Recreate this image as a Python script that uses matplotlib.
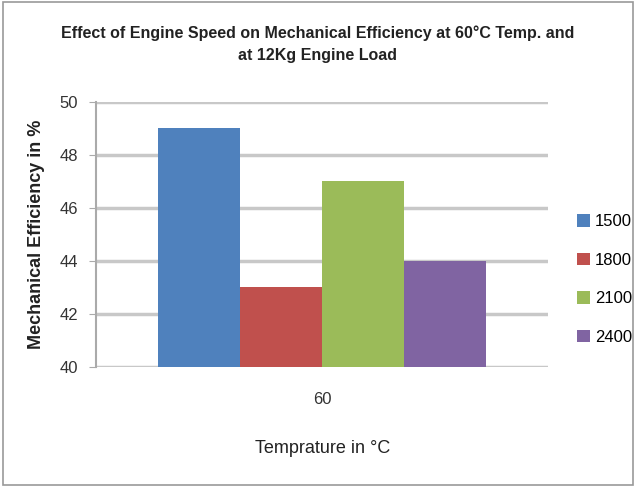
import numpy as np
import matplotlib.pyplot as plt

categories = ['60']
series = ['1500', '1800', '2100', '2400']
values = [49, 43, 47, 44]
colors = ['#4F81BD', '#C0504D', '#9BBB59', '#8064A2']
yticks = [40, 42, 44, 46, 48, 50]

plt.rcParams['font.family'] = ['Liberation Sans', 'DejaVu Sans']

fig = plt.figure(figsize=(6.36, 4.87), dpi=100)
ax = fig.add_axes([0.151, 0.2464, 0.711, 0.5442])

w = 0.726 / len(series)
x = np.arange(len(categories))
for i, (s, v, c) in enumerate(zip(series, values, colors)):
    off = (i - (len(series) - 1) / 2) * w
    ax.bar(x + off, [v], width=w, color=c, label=s, zorder=3)

ax.set_xlim(-0.5, 0.5)
ax.set_ylim(40, 50)
ax.set_yticks(yticks)
ax.set_yticklabels([str(t) for t in yticks], fontsize=12, color='#333333')
ax.set_xticks(x)
ax.set_xticklabels(categories, fontsize=12, color='#333333')
ax.tick_params(axis='x', length=0, pad=18)
ax.tick_params(axis='y', length=5, color='#aaaaaa', pad=8)
ax.yaxis.grid(True, color='#c8c8c8', linewidth=2.5, zorder=0)
for sp in ['top', 'right', 'bottom']:
    ax.spines[sp].set_visible(False)
ax.spines['left'].set_color('#aaaaaa')
ax.spines['left'].set_linewidth(1.5)

ax.set_ylabel('Mechanical Efficiency in %', fontsize=13, fontweight='bold',
              color='#222222', labelpad=10)
ax.set_xlabel('Temprature in \u00b0C', fontsize=13, color='#222222', labelpad=24)

fig.suptitle('Effect of Engine Speed on Mechanical Efficiency at 60\u00b0C Temp. and\nat 12Kg Engine Load',
             fontsize=11.5, fontweight='bold', color='#222222', y=0.948, linespacing=1.6)

ax.legend(loc='center left', bbox_to_anchor=(1.03, 0.33), frameon=False,
          fontsize=12, handlelength=0.8, handleheight=0.8, labelspacing=1.4,
          handletextpad=0.3)

fig.patches.append(plt.Rectangle((0.004, 0.004), 0.992, 0.992, transform=fig.transFigure,
                                 fill=False, edgecolor='#999999', linewidth=1.2))

fig.savefig('out.png', dpi=100)
